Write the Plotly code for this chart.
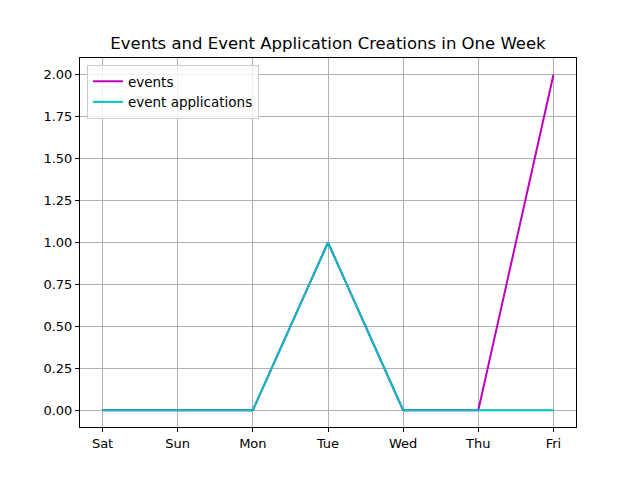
import plotly.graph_objects as go

days = ["Sat", "Sun", "Mon", "Tue", "Wed", "Thu", "Fri"]
events = [0, 0, 0, 1, 0, 0, 2]
event_applications = [0, 0, 0, 1, 0, 0, 0]
y_ticks = [0.0, 0.25, 0.5, 0.75, 1.0, 1.25, 1.5, 1.75, 2.0]

x_idx = list(range(len(days)))

fig = go.Figure()
fig.add_trace(go.Scatter(x=x_idx, y=events, mode="lines", name="events",
                         line=dict(color="#bf00bf", width=2)))
fig.add_trace(go.Scatter(x=x_idx, y=event_applications, mode="lines", name="event applications",
                         line=dict(color="#00bfbf", width=2)))

font = dict(family="DejaVu Sans", size=13.9, color="black")
axis_common = dict(showline=True, linecolor="black", linewidth=1, mirror=True,
                   ticks="outside", ticklen=4, tickcolor="black",
                   showgrid=True, gridcolor="#b0b0b0", gridwidth=1, zeroline=False,
                   tickfont=dict(family="DejaVu Sans", size=13, color="black"))

fig.update_layout(
    width=640, height=480,
    paper_bgcolor="white", plot_bgcolor="white",
    margin=dict(l=72, r=72, t=50, b=61),
    title=dict(text="Events and Event Application Creations in One Week",
               x=0.5, xanchor="center", y=1 - 35 / 480, yanchor="middle",
               font=dict(family="DejaVu Sans", size=16.5, color="black")),
    font=font,
    showlegend=True,
    legend=dict(x=0.014, y=0.981, xanchor="left", yanchor="top",
                bgcolor="rgba(255,255,255,0.8)", bordercolor="#cccccc", borderwidth=1,
                font=dict(family="DejaVu Sans", size=13.5, color="black"),
                tracegroupgap=0, itemwidth=30),
    xaxis=dict(range=[-0.3, 6.3], tickmode="array", tickvals=x_idx, ticktext=days, **axis_common),
    yaxis=dict(range=[-0.1, 2.1], tickmode="array", tickvals=y_ticks,
               ticktext=[f"{v:.2f}" for v in y_ticks], **axis_common),
)

fig.write_html("out.html")
